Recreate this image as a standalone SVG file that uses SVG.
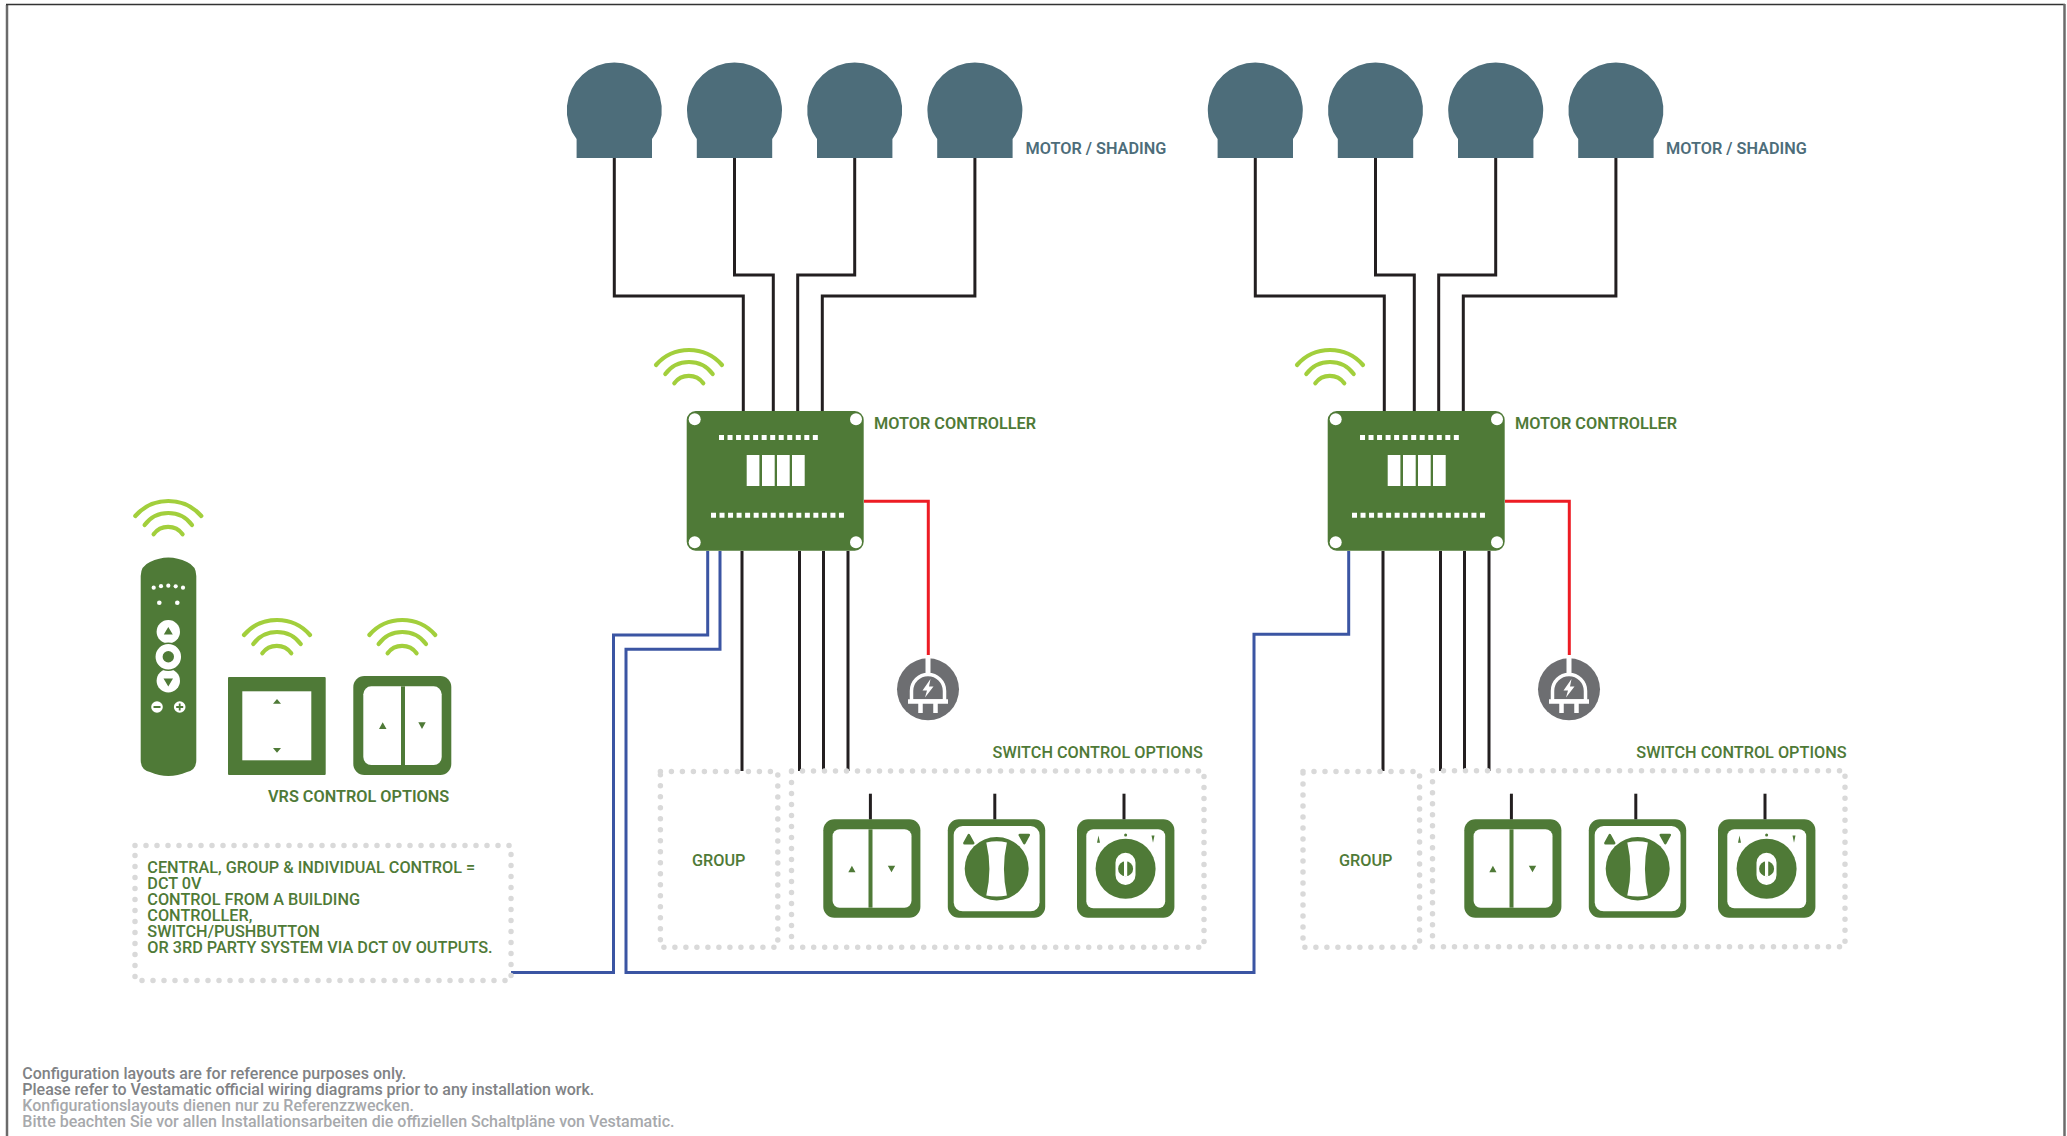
<svg xmlns="http://www.w3.org/2000/svg" width="2067" height="1136" viewBox="0 0 2067 1136">
<style>
text{font-family:Roboto,"Liberation Sans",sans-serif;font-weight:500;font-size:16.25px}
.g{fill:#4f7a37}
.gt{fill:#4f7a37;font-weight:600}
.mt{fill:#4d6d7a;font-weight:600}
.w{fill:#fff}
.wire{fill:none;stroke:#231f20;stroke-width:3}
.blue{fill:none;stroke:#3b55a3;stroke-width:3}
.red{fill:none;stroke:#ed1c24;stroke-width:3}
.dots{fill:none;stroke:#d9d9d9;stroke-width:5.5;stroke-linecap:round;stroke-dasharray:0 11}
.arc{fill:none;stroke:#a2cf3c;stroke-width:4.2;stroke-linecap:round}
.f1{fill:#808285;font-size:16px}
.f2{fill:#a7a9ac;font-size:16px}
</style>
<defs>
<g id="wifi">
<path class="arc" d="M656 365A43.800 43.800 0 0 1 722 365"/>
<path class="arc" d="M665.300 374A29.400 29.400 0 0 1 712.700 374"/>
<path class="arc" d="M674.300 383.300A18 18 0 0 1 703.300 383.300"/>
</g>
<path id="motor" fill="#4d6d7a" d="M576.600 139A47.500 47.500 0 1 1 652 139V158H576.600Z"/>
<g id="controller">
<rect class="g" x="686.700" y="411" width="177" height="139.700" rx="9"/>
<g class="w">
<circle cx="694.700" cy="419.300" r="6"/><circle cx="856" cy="419.300" r="6"/><circle cx="694.700" cy="542.300" r="6"/><circle cx="856" cy="542.300" r="6"/>
<rect x="746.700" y="455" width="12.700" height="31"/><rect x="762" y="455" width="12.700" height="31"/><rect x="777" y="455" width="12.700" height="31"/><rect x="792" y="455" width="12.700" height="31"/>
</g>
<path d="M719 437.500H818M711 515.300H844" fill="none" stroke="#fff" stroke-width="5" stroke-dasharray="5 3.530"/>
</g>
<g id="plug">
<circle cx="928" cy="689.300" r="31" fill="#6d6e71"/>
<path d="M928 657V675" stroke="#fff" stroke-width="5" fill="none"/>
<path d="M911.500 701V691A16.500 16.500 0 0 1 944.500 691V701Z" fill="none" stroke="#fff" stroke-width="3.500"/>
<path d="M908 701.500H948M920.500 701V713M935.500 701V713" stroke="#fff" stroke-width="4.500" fill="none"/>
<path class="w" d="M930.500 679L922.500 690.500H927L925 697.500L933.500 686.500H929Z"/>
</g>
<g id="rocker">
<rect class="g" x="823.300" y="819.300" width="97.100" height="98.400" rx="11"/>
<rect class="w" x="832.600" y="829.300" width="78.900" height="78.400" rx="7"/>
<rect class="g" x="868.500" y="829.300" width="4" height="78.400"/>
<path class="g" d="M851.900 865.700L855.500 872.300H848.300ZM887.800 865.700H895.200L891.500 872.300Z"/>
<path class="wire" d="M870.400 793.700V819.300"/>
</g>
<g id="rotary">
<rect class="g" x="947.800" y="819.300" width="97.400" height="98.400" rx="11"/>
<rect class="w" x="953.700" y="826" width="85.900" height="85.300" rx="9"/>
<ellipse class="g" cx="996.700" cy="868.700" rx="32" ry="31.700"/>
<path class="w" d="M986.300 842.500Q996.700 840 1006.900 842.500Q1001 868.700 1006.900 895.500Q996.700 897.500 986.300 895.500Q992.500 868.700 986.300 842.500Z"/>
<path class="g" stroke="#4f7a37" stroke-width="2.500" stroke-linejoin="round" d="M968.800 835L973.200 843.200H964.400ZM1019.700 835H1028.800L1024.300 843.200Z"/>
<path class="wire" d="M994.800 793.700V819.300"/>
</g>
<g id="key">
<rect class="g" x="1077" y="819.300" width="97.400" height="98.400" rx="11"/>
<rect class="w" x="1086.300" y="829.300" width="78.900" height="79" rx="7"/>
<circle class="g" cx="1125.600" cy="868.700" r="30"/>
<rect class="w" x="1115.500" y="852.700" width="20" height="32.300" rx="10"/>
<circle class="g" cx="1125.600" cy="868.700" r="7.500"/>
<rect class="w" x="1124" y="861" width="3.200" height="15.400"/>
<circle class="g" cx="1125.600" cy="835" r="1.500"/>
<path class="g" d="M1098.500 835.500L1100 842.700H1097ZM1151.500 835.500H1154.500L1153 842.700Z"/>
<path class="wire" d="M1124 793.700V819.300"/>
</g>
</defs>

<g id="frame" fill="none">
<path d="M7 1136V5" stroke="#6b6b6b" stroke-width="2.500"/>
<path d="M6 4.500H2065" stroke="#333" stroke-width="1.500"/>
<path d="M2064.500 4V1136" stroke="#6b6b6b" stroke-width="2.500"/>
</g>

<g id="connectors">
<path class="wire" d="M614.300 158V296H743.300V411M734.500 158V275H773.300V411M854.700 158V275H797.700V411M974.900 158V296H822.300V411"/>
<path class="wire" d="M742 551V771M799.500 551V771M823.500 551V771M848 551V771"/>
<path class="wire" transform="translate(641 0)" d="M614.300 158V296H743.300V411M734.500 158V275H773.300V411M854.700 158V275H797.700V411M974.900 158V296H822.300V411"/>
<path class="wire" transform="translate(641 0)" d="M742 551V771M799.500 551V771M823.500 551V771M848 551V771"/>
<path class="red" d="M864 501.300H928.300V655"/>
<path class="red" d="M1505 501.300H1569.300V655"/>
<path class="blue" d="M511 972.600H613.500V635H707.700V551"/>
<path class="blue" d="M720 551V649.300H626V972.600H1254V634.300H1348.700V551"/>
</g>

<g id="motors-a">
<use href="#motor"/><use href="#motor" x="120.200"/><use href="#motor" x="240.400"/><use href="#motor" x="360.600"/>
<text class="mt" x="1025.500" y="154.300">MOTOR / SHADING</text>
</g>
<g id="motors-b">
<use href="#motor" x="641"/><use href="#motor" x="761.200"/><use href="#motor" x="881.400"/><use href="#motor" x="1001.600"/>
<text class="mt" x="1666" y="154.300">MOTOR / SHADING</text>
</g>

<g id="controller-a">
<use href="#wifi"/><use href="#controller"/>
<text class="gt" x="874" y="428.700">MOTOR CONTROLLER</text>
</g>
<g id="controller-b">
<use href="#wifi" x="641"/><use href="#controller" x="641"/>
<text class="gt" x="1515" y="428.700">MOTOR CONTROLLER</text>
</g>
<g id="plug-a"><use href="#plug"/></g>
<g id="plug-b"><use href="#plug" x="641"/></g>

<g id="group-a">
<rect class="dots" x="660.400" y="771.500" width="117.400" height="175.700"/>
<text class="g" x="691.900" y="866">GROUP</text>
</g>
<g id="switches-a">
<rect class="dots" x="791.500" y="771" width="412.500" height="176.200"/>
<text class="g" x="992.600" y="758">SWITCH CONTROL OPTIONS</text>
<use href="#rocker"/><use href="#rotary"/><use href="#key"/>
</g>
<g id="group-b">
<rect class="dots" x="1303" y="771.500" width="116.600" height="175.700"/>
<text class="g" x="1338.900" y="866">GROUP</text>
</g>
<g id="switches-b">
<rect class="dots" x="1432.500" y="770.700" width="412.500" height="176"/>
<text class="g" x="1636.300" y="758">SWITCH CONTROL OPTIONS</text>
<use href="#rocker" x="641"/><use href="#rotary" x="641"/><use href="#key" x="641"/>
</g>

<g id="remote">
<use href="#wifi" x="-520.700" y="151"/>
<path class="g" d="M140.700 576Q140.700 566 150 562Q168.300 553 187 562Q196.300 566 196.300 576V760Q196.300 770 187 772Q168.300 780 150 772Q140.700 770 140.700 760Z"/>
<g class="w">
<circle cx="153.700" cy="587.700" r="2.100"/><circle cx="161" cy="586.200" r="2.100"/><circle cx="168.300" cy="585.700" r="2.100"/><circle cx="175.700" cy="586.300" r="2.100"/><circle cx="183" cy="587.700" r="2.100"/>
<circle cx="159.300" cy="602.700" r="2.300"/><circle cx="177.300" cy="602.700" r="2.300"/>
<circle cx="168.300" cy="631.700" r="11.700"/><circle cx="168.300" cy="680.700" r="11.700"/>
<circle cx="168.300" cy="656.700" r="13.500" stroke="#4f7a37" stroke-width="1.500"/>
<circle cx="157" cy="707" r="5.800"/><circle cx="179.700" cy="707" r="5.800"/>
</g>
<circle class="g" cx="168.300" cy="656.700" r="5.700"/>
<path class="g" d="M168.300 627L172.800 634.500H163.800ZM163.500 678.500H173L168.300 686.500Z"/>
<path d="M153.500 707H160.500M176.200 707H183.200M179.700 703.500V710.500" stroke="#4f7a37" stroke-width="1.800" fill="none"/>
</g>

<g id="vrs-switch-square">
<use href="#wifi" x="-412" y="270"/>
<rect class="g" x="228" y="677" width="97.700" height="98" rx="1"/>
<rect class="w" x="242.300" y="691.300" width="69" height="69"/>
<path class="g" d="M277 699L281 703.700H273ZM273 748H281L277 752.700Z"/>
</g>
<g id="vrs-switch-rocker">
<use href="#wifi" x="-286.700" y="270"/>
<rect class="g" x="353.300" y="676" width="98" height="99" rx="11"/>
<rect class="w" x="363.300" y="686.300" width="78.400" height="78.700" rx="8"/>
<rect class="g" x="401" y="686.300" width="4" height="78.700"/>
<path class="g" d="M382.700 722.300L386.500 729H379ZM418.300 722.300H425.700L422 729Z"/>
</g>
<text id="vrs-label" class="gt" x="268" y="801.700">VRS CONTROL OPTIONS</text>

<g id="note">
<rect class="dots" x="135" y="845.500" width="376" height="135"/>
<text class="g" x="147.300" y="873">CENTRAL, GROUP &amp; INDIVIDUAL CONTROL =</text>
<text class="g" x="147.300" y="889">DCT 0V</text>
<text class="g" x="147.300" y="905">CONTROL FROM A BUILDING</text>
<text class="g" x="147.300" y="921">CONTROLLER,</text>
<text class="g" x="147.300" y="937">SWITCH/PUSHBUTTON</text>
<text class="g" x="147.300" y="953">OR 3RD PARTY SYSTEM VIA DCT 0V OUTPUTS.</text>
</g>

<g id="footer">
<text class="f1" x="22.300" y="1078.800">Configuration layouts are for reference purposes only.</text>
<text class="f1" x="22.300" y="1094.800">Please refer to Vestamatic official wiring diagrams prior to any installation work.</text>
<text class="f2" x="22.300" y="1110.800">Konfigurationslayouts dienen nur zu Referenzzwecken.</text>
<text class="f2" x="22.300" y="1126.800">Bitte beachten Sie vor allen Installationsarbeiten die offiziellen Schaltpläne von Vestamatic.</text>
</g>
</svg>
